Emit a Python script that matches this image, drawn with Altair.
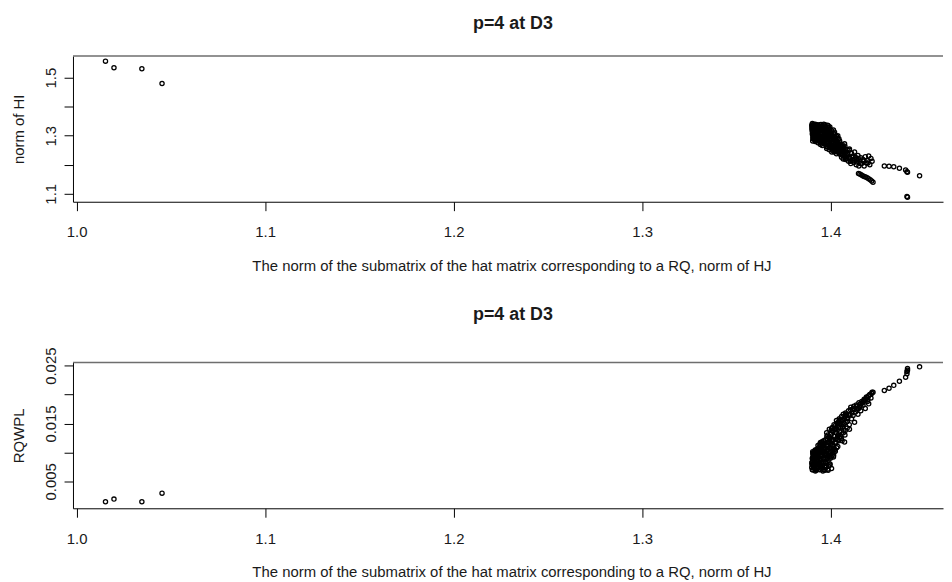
import altair as alt
import pandas as pd

# ---- data -----------------------------------------------------------------
# x: norm of HJ ; top panel y: norm of HI ; bottom panel y: RQWPL
hj = [
    1.0153, 1.0198, 1.0346, 1.0453,
    1.3900, 1.3902, 1.3905, 1.3907, 1.3909, 1.3911, 1.3913, 1.3915, 1.3917, 1.3919,
    1.3921, 1.3923, 1.3925, 1.3927, 1.3929, 1.3904, 1.3914, 1.3920, 1.3926, 1.3910,
    1.3901, 1.3906, 1.3912, 1.3916, 1.3918, 1.3922, 1.3924, 1.3928, 1.3903, 1.3908,
    1.3931, 1.3933, 1.3935, 1.3937, 1.3939, 1.3941, 1.3943, 1.3945, 1.3947, 1.3949,
    1.3951, 1.3953, 1.3955, 1.3957, 1.3959, 1.3961, 1.3963, 1.3965, 1.3967, 1.3969,
    1.3936, 1.3944, 1.3952, 1.3960, 1.3966,
    1.3932, 1.3938, 1.3942, 1.3946, 1.3950, 1.3954, 1.3958, 1.3962, 1.3964, 1.3968,
    1.3971, 1.3973, 1.3975, 1.3977, 1.3979, 1.3981, 1.3983, 1.3985, 1.3987, 1.3989,
    1.3991, 1.3993, 1.3995, 1.3997, 1.3999, 1.4001, 1.4003, 1.4005, 1.4007, 1.4009,
    1.3974, 1.3982, 1.3990, 1.3998, 1.4004, 1.3978, 1.3994,
    1.3972, 1.3976, 1.3980, 1.3984, 1.3986, 1.3988, 1.3992, 1.3996, 1.4000, 1.4002,
    1.4006, 1.4008,
    1.4011, 1.4013, 1.4016, 1.4018, 1.4021, 1.4023, 1.4026, 1.4028, 1.4031, 1.4033,
    1.4036, 1.4038, 1.4041, 1.4043, 1.4046, 1.4048, 1.4050, 1.4015, 1.4025, 1.4035,
    1.4012, 1.4017, 1.4020, 1.4024, 1.4029, 1.4032, 1.4037, 1.4040, 1.4044, 1.4049,
    1.4052, 1.4055, 1.4058, 1.4061, 1.4064, 1.4067, 1.4070, 1.4073, 1.4076, 1.4079,
    1.4082, 1.4085, 1.4088, 1.4060, 1.4074,
    1.4053, 1.4057, 1.4063, 1.4068, 1.4072, 1.4078, 1.4083, 1.4087,
    1.4091, 1.4095, 1.4099, 1.4103, 1.4107, 1.4111, 1.4115, 1.4119, 1.4123, 1.4127, 1.4100,
    1.4132, 1.4136, 1.4140, 1.4145, 1.4150, 1.4155, 1.4160, 1.4165,
    1.4172, 1.4178, 1.4184, 1.4190, 1.4196, 1.4202, 1.4208, 1.4214, 1.4220,
    1.4148, 1.4155, 1.4162, 1.4170, 1.4178, 1.4186, 1.4194, 1.4202, 1.4210, 1.4218, 1.4225,
    1.4285, 1.4310, 1.4335, 1.4365, 1.4398, 1.4405, 1.4408, 1.4472, 1.4405, 1.4408,
    1.3901, 1.3903, 1.3906, 1.3909, 1.3912, 1.3915, 1.3918, 1.3921, 1.3924, 1.3927,
    1.3930, 1.3934, 1.3937, 1.3940, 1.3943, 1.3946, 1.3949, 1.3952, 1.3955, 1.3958,
    1.3961, 1.3964, 1.3967, 1.3970, 1.3905, 1.3919, 1.3933, 1.3947, 1.3956, 1.3963,
    1.3971, 1.3975, 1.3979, 1.3983, 1.3987, 1.3991, 1.3995, 1.3999, 1.4003, 1.4007,
    1.4011, 1.4015, 1.4019, 1.4023, 1.4027, 1.4031, 1.4035, 1.4039, 1.4043, 1.4047,
    1.4055, 1.4066, 1.4077, 1.4089, 1.4097, 1.4105, 1.4113, 1.4121, 1.4129, 1.4138,
    1.4147, 1.4158, 1.4175, 1.4198,
]
hi = [
    1.557, 1.534, 1.531, 1.480,
    1.336, 1.318, 1.328, 1.300, 1.340, 1.310, 1.292, 1.332, 1.322, 1.284,
    1.305, 1.338, 1.315, 1.296, 1.326, 1.312, 1.302, 1.334, 1.289, 1.324,
    1.330, 1.296, 1.318, 1.286, 1.338, 1.300, 1.322, 1.310, 1.342, 1.305,
    1.337, 1.308, 1.285, 1.326, 1.298, 1.330, 1.278, 1.316, 1.292, 1.339,
    1.304, 1.272, 1.320, 1.288, 1.333, 1.300, 1.276, 1.312, 1.282, 1.324,
    1.318, 1.306, 1.328, 1.294, 1.336,
    1.322, 1.292, 1.338, 1.280, 1.310, 1.296, 1.326, 1.284, 1.340, 1.302,
    1.302, 1.270, 1.330, 1.286, 1.256, 1.314, 1.296, 1.262, 1.334, 1.280,
    1.308, 1.252, 1.290, 1.322, 1.266, 1.298, 1.258, 1.318, 1.276, 1.250,
    1.318, 1.274, 1.328, 1.284, 1.306, 1.300, 1.270,
    1.286, 1.312, 1.262, 1.336, 1.290, 1.304, 1.276, 1.330, 1.262, 1.288,
    1.244, 1.300,
    1.300, 1.262, 1.286, 1.244, 1.312, 1.270, 1.252, 1.292, 1.238, 1.278,
    1.258, 1.300, 1.242, 1.268, 1.250, 1.282, 1.236, 1.320, 1.296, 1.264,
    1.280, 1.306, 1.256, 1.284, 1.262, 1.298, 1.272, 1.250, 1.290, 1.246,
    1.262, 1.240, 1.226, 1.270, 1.248, 1.220, 1.256, 1.232, 1.264, 1.218,
    1.244, 1.228, 1.252, 1.234, 1.272,
    1.250, 1.266, 1.236, 1.260, 1.242, 1.254, 1.222, 1.238,
    1.236, 1.212, 1.250, 1.222, 1.204, 1.240, 1.216, 1.230, 1.208, 1.244, 1.254,
    1.226, 1.200, 1.218, 1.232, 1.196, 1.212, 1.224, 1.204,
    1.218, 1.196, 1.228, 1.206, 1.214, 1.230, 1.200, 1.222, 1.212,
    1.170, 1.168, 1.166, 1.162, 1.160, 1.158, 1.155, 1.152, 1.148, 1.144, 1.140,
    1.196, 1.195, 1.193, 1.188, 1.182, 1.176, 1.174, 1.162, 1.091, 1.088,
    1.324, 1.306, 1.290, 1.332, 1.296, 1.314, 1.280, 1.320, 1.304, 1.336,
    1.290, 1.314, 1.300, 1.286, 1.322, 1.270, 1.310, 1.296, 1.334, 1.276,
    1.318, 1.290, 1.306, 1.338, 1.282, 1.340, 1.276, 1.328, 1.266, 1.318,
    1.322, 1.294, 1.306, 1.280, 1.318, 1.264, 1.300, 1.312, 1.272, 1.294,
    1.254, 1.276, 1.298, 1.248, 1.286, 1.266, 1.246, 1.288, 1.258, 1.272,
    1.244, 1.252, 1.226, 1.240, 1.226, 1.212, 1.226, 1.214, 1.220, 1.210,
    1.222, 1.204, 1.212, 1.206,
]
rqwpl = [
    0.00146, 0.00192, 0.00146, 0.00295,
    0.0074, 0.0083, 0.0070, 0.0091, 0.0078, 0.0087, 0.0098, 0.0072, 0.0080, 0.0103,
    0.0094, 0.0069, 0.0085, 0.0100, 0.0076, 0.0089, 0.0093, 0.0071, 0.0105, 0.0081,
    0.0079, 0.0097, 0.0084, 0.0101, 0.0071, 0.0095, 0.0082, 0.0088, 0.0070, 0.0093,
    0.0073, 0.0092, 0.0108, 0.0079, 0.0099, 0.0070, 0.0114, 0.0086, 0.0104, 0.0075,
    0.0096, 0.0118, 0.0082, 0.0110, 0.0068, 0.0101, 0.0120, 0.0090, 0.0115, 0.0077,
    0.0084, 0.0094, 0.0072, 0.0106, 0.0071,
    0.0080, 0.0101, 0.0071, 0.0112, 0.0089, 0.0103, 0.0078, 0.0113, 0.0070, 0.0097,
    0.0098, 0.0122, 0.0074, 0.0111, 0.0134, 0.0088, 0.0104, 0.0130, 0.0069, 0.0117,
    0.0093, 0.0140, 0.0108, 0.0080, 0.0127, 0.0101, 0.0138, 0.0072, 0.0120, 0.0143,
    0.0084, 0.0124, 0.0076, 0.0114, 0.0092, 0.0097, 0.0122,
    0.0108, 0.0090, 0.0128, 0.0071, 0.0106, 0.0096, 0.0119, 0.0078, 0.0131, 0.0111,
    0.0141, 0.0102,
    0.0112, 0.0136, 0.0095, 0.0148, 0.0105, 0.0128, 0.0142, 0.0118, 0.0155, 0.0124,
    0.0146, 0.0110, 0.0152, 0.0132, 0.0158, 0.0126, 0.0150, 0.0092, 0.0102, 0.0139,
    0.0122, 0.0100, 0.0140, 0.0116, 0.0134, 0.0108, 0.0128, 0.0150, 0.0120, 0.0156,
    0.0128, 0.0150, 0.0162, 0.0120, 0.0145, 0.0166, 0.0138, 0.0158, 0.0130, 0.0168,
    0.0152, 0.0164, 0.0142, 0.0156, 0.0118,
    0.0142, 0.0124, 0.0156, 0.0134, 0.0150, 0.0138, 0.0166, 0.0158,
    0.0160, 0.0172, 0.0148, 0.0166, 0.0178, 0.0158, 0.0174, 0.0164, 0.0180, 0.0152, 0.0140,
    0.0170, 0.0182, 0.0176, 0.0166, 0.0186, 0.0178, 0.0172, 0.0188,
    0.0182, 0.0192, 0.0176, 0.0196, 0.0188, 0.0184, 0.0200, 0.0194, 0.0204,
    0.0176, 0.0180, 0.0184, 0.0186, 0.0190, 0.0192, 0.0195, 0.0198, 0.0200, 0.0202, 0.0204,
    0.0207, 0.0211, 0.0216, 0.0223, 0.0230, 0.0236, 0.0242, 0.0248, 0.0240, 0.0245,
    0.0082, 0.0090, 0.0099, 0.0075, 0.0096, 0.0086, 0.0104, 0.0079, 0.0092, 0.0072,
    0.0103, 0.0087, 0.0095, 0.0107, 0.0081, 0.0117, 0.0093, 0.0100, 0.0074, 0.0112,
    0.0083, 0.0105, 0.0095, 0.0069, 0.0101, 0.0068, 0.0112, 0.0077, 0.0118, 0.0088,
    0.0082, 0.0103, 0.0094, 0.0113, 0.0086, 0.0126, 0.0099, 0.0090, 0.0122, 0.0107,
    0.0138, 0.0121, 0.0104, 0.0146, 0.0117, 0.0134, 0.0151, 0.0122, 0.0143, 0.0136,
    0.0155, 0.0148, 0.0163, 0.0154, 0.0165, 0.0174, 0.0168, 0.0176, 0.0174, 0.0180,
    0.0176, 0.0184, 0.0188, 0.0192,
]

x_ticks = [1.0, 1.1, 1.2, 1.3, 1.4]
hi_ticks = [1.1, 1.2, 1.3, 1.4, 1.5]
rq_ticks = [0.005, 0.010, 0.015, 0.020, 0.025]

panel_title = "p=4 at D3"
x_title = "The norm of the submatrix of the hat matrix corresponding to a RQ, norm of HJ"

df = pd.DataFrame({"hj": hj, "hi": hi, "rqwpl": rqwpl})
border = pd.DataFrame({"b": [0]})

# ---- layout ---------------------------------------------------------------
W = 877
H = 147
PX_PER_UNIT = 1900.0
x_lo = 1.0 - 3.7 / PX_PER_UNIT
x_hi = x_lo + W / PX_PER_UNIT

FONT = "Liberation Sans"
INK = "#1a1a1a"

x_enc = alt.X(
    "hj:Q",
    scale=alt.Scale(domain=[x_lo, x_hi], nice=False, zero=False),
    axis=alt.Axis(values=x_ticks, format=".1f", title=x_title,
                  labelPadding=14, titlePadding=19, titleX=442),
)


def panel(field, domain, ticks, ytitle, label_expr, title_offset):
    pts = alt.Chart(df).mark_point(
        shape="circle", filled=False, color="black", size=18,
        strokeWidth=1.3, opacity=1,
    ).encode(
        x=x_enc,
        y=alt.Y(
            f"{field}:Q",
            scale=alt.Scale(domain=domain, nice=False, zero=False),
            axis=alt.Axis(values=ticks, title=ytitle, labelExpr=label_expr,
                          labelAngle=270, labelAlign="center",
                          labelBaseline="bottom", labelPadding=5.8,
                          titlePadding=17),
        ),
    )
    top = alt.Chart(border).mark_rule(color="#6e6e6e", strokeWidth=1.5).encode(
        x=alt.value(0), x2=alt.value(W), y=alt.value(0)
    )
    return alt.layer(pts, top).properties(
        width=W, height=H,
        title=alt.TitleParams(panel_title, fontSize=18, fontWeight="bold",
                              font=FONT, color=INK, anchor="middle",
                              offset=title_offset, dx=5),
    )


top_panel = panel("hi", [1.0726, 1.575], hi_ticks, "norm of HI",
                  "round(datum.value*10) % 2 == 0 ? '' : format(datum.value, '.1f')",
                  22)
bottom_panel = panel("rqwpl", [0.00033, 0.02556], rq_ticks, "RQWPL",
                     "round(datum.value*1000) % 10 == 0 ? '' : format(datum.value, '.3f')",
                     23)

chart = alt.vconcat(top_panel, bottom_panel, spacing=33).properties(
    padding={"left": 3.5, "top": 5, "right": 0, "bottom": 0},
    background="white",
).configure_view(strokeWidth=0).configure_axis(
    grid=False, domainColor="black", domainWidth=1, tickColor="black",
    tickSize=9, tickWidth=1, labelFont=FONT, labelFontSize=15,
    labelColor=INK, titleFont=FONT, titleFontSize=15, titleColor=INK,
    titleFontWeight="normal",
)

chart.save("out.html", embed_options={"renderer": "svg", "actions": False})
